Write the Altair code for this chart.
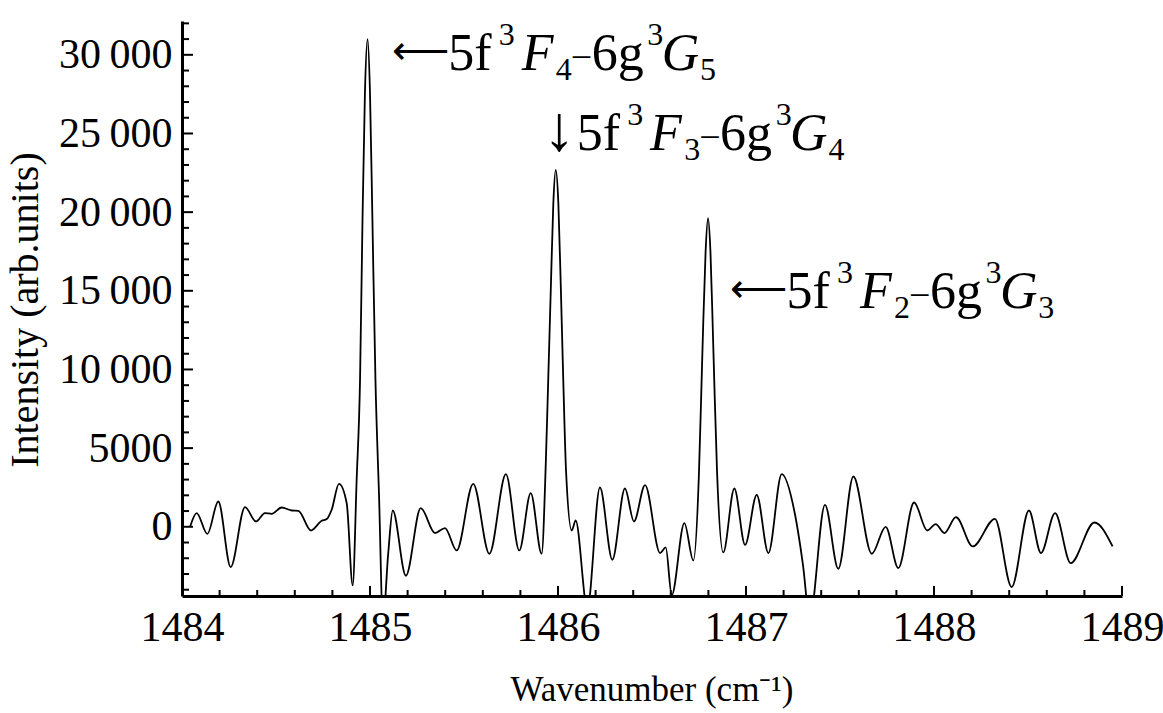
import altair as alt
import pandas as pd

# ---- data ----
wavenumber = [
    1484.043, 1484.078, 1484.135, 1484.193, 1484.259, 1484.335, 1484.394, 1484.441,
    1484.477, 1484.530, 1484.584, 1484.619, 1484.686, 1484.743, 1484.770, 1484.796,
    1484.835, 1484.876, 1484.908, 1484.929, 1484.947, 1484.960, 1484.973, 1484.987,
    1485.000, 1485.013, 1485.029, 1485.048, 1485.069, 1485.097, 1485.121, 1485.191,
    1485.270, 1485.346, 1485.399, 1485.461, 1485.549, 1485.635, 1485.723, 1485.794,
    1485.855, 1485.913, 1485.935, 1485.948, 1485.962, 1485.975, 1485.988, 1486.002,
    1486.015, 1486.028, 1486.043, 1486.073, 1486.094, 1486.156, 1486.223, 1486.289,
    1486.356, 1486.404, 1486.463, 1486.543, 1486.573, 1486.605, 1486.672, 1486.720,
    1486.750, 1486.764, 1486.771, 1486.785, 1486.798, 1486.811, 1486.824, 1486.831,
    1486.846, 1486.879, 1486.938, 1486.995, 1487.057, 1487.119, 1487.190, 1487.261,
    1487.303, 1487.339, 1487.420, 1487.491, 1487.571, 1487.669, 1487.743, 1487.810,
    1487.894, 1487.964, 1488.009, 1488.055, 1488.117, 1488.206, 1488.324, 1488.413,
    1488.505, 1488.569, 1488.644, 1488.727, 1488.853, 1488.950,
]
intensity = [
    0, 870, -445, 1607, -2560, 1251, 337, 870,
    826, 1226, 1036, 1016, -235, 381, 489, 1080,
    2732, 1506, -3729, 2986, 9339, 19400, 27560, 31000,
    27560, 19400, 9340, 2000, -6000, -1671, 1036, -3113,
    1188, -400, -83, -1506, 2732, -1715, 3348, -1506,
    2141, -1715, 4000, 9339, 15220, 20520, 22680, 20520,
    15220, 9339, 3500, -235, 400, -5200, 2497, -2096,
    2433, 337, 2649, -1671, -1315, -4350, 235, -2141,
    3500, 9339, 12300, 17450, 19612, 17450, 12300, 9339,
    3500, -1633, 2433, -1144, 2033, -1671, 3348, 762,
    -2414, -5800, 1398, -2668, 3196, -1715, 0, -2624,
    1544, -235, 172, -400, 616, -1251, 508, -3831,
    1036, -1671, 870, -2306, 273, -1251,
]
assert len(wavenumber) == len(intensity)

x_major = [1484, 1485, 1486, 1487, 1488, 1489]
x_minor = [1484.2, 1484.4, 1484.6, 1484.8, 1485.2, 1485.4, 1485.6, 1485.8,
           1486.2, 1486.4, 1486.6, 1486.8, 1487.2, 1487.4, 1487.6, 1487.8,
           1488.2, 1488.4, 1488.6, 1488.8]
y_major = [0, 5000, 10000, 15000, 20000, 25000, 30000]
y_minor = [-4000, -3000, -2000, -1000, 1000, 2000, 3000, 4000, 6000, 7000, 8000,
           9000, 11000, 12000, 13000, 14000, 16000, 17000, 18000, 19000, 21000,
           22000, 23000, 24000, 26000, 27000, 28000, 29000, 31000, 32000]

x_title = "Wavenumber (cm\u207b\u00b9)"
y_title = "Intensity (arb.units)"

# annotation labels: (arrow, sub1, sub2)
labels = [("\u27f5", "4", "5"), ("\u2193", "3", "4"), ("\u27f5", "2", "3")]

# ---- layout ----
W, H = 940, 575
LEFT, TOP = 182, 21
FONT = "Liberation Serif"
TICK_FS = 42
X_DOMAIN = [1484, 1489]
Y_DOMAIN = [-4400, 32150]

xs = alt.Scale(domain=X_DOMAIN, nice=False, zero=False)
ys = alt.Scale(domain=Y_DOMAIN, nice=False, zero=False)

df = pd.DataFrame({"w": wavenumber, "I": intensity})

sep = "\u2009"
label_expr = ("datum.value >= 10000 ? replace(format(datum.value, ','), ',', '" + sep +
              "') : format(datum.value, 'd')")

x_axis = alt.Axis(
    values=x_major, ticks=False, tickSize=0, grid=False, domainWidth=3,
    domainColor="black", labelFont=FONT, labelFontSize=TICK_FS, labelColor="black",
    labelPadding=11, title=None, format="d", labelFlush=False)
y_axis = alt.Axis(
    values=y_major, ticks=False, tickSize=0, grid=False, domainWidth=3,
    domainColor="black", labelFont=FONT, labelFontSize=TICK_FS, labelColor="black",
    labelPadding=10, title=None, labelExpr=label_expr, labelFlush=False)

line = alt.Chart(df).mark_line(
    color="black", strokeWidth=1.8, interpolate="monotone", clip=True
).encode(
    x=alt.X("w:Q", scale=xs, axis=x_axis),
    y=alt.Y("I:Q", scale=ys, axis=y_axis),
)


def xticks(vals, length):
    d = pd.DataFrame({"w": vals})
    return alt.Chart(d).mark_rule(color="black", strokeWidth=2).encode(
        x=alt.X("w:Q", scale=xs, axis=x_axis),
        y=alt.value(H), y2=alt.value(H - length))


def yticks(vals, length):
    d = pd.DataFrame({"I": vals})
    return alt.Chart(d).mark_rule(color="black", strokeWidth=2).encode(
        y=alt.Y("I:Q", scale=ys, axis=y_axis),
        x=alt.value(0), x2=alt.value(length))


one = alt.Data(values=[{"k": 0}])


def txt(s, px, py, size, style="normal", angle=0, align="left", baseline="alphabetic", font=FONT):
    kw = dict(text=s, font=font, fontSize=size, align=align, baseline=baseline,
              color="black", fontStyle=style)
    if angle:
        kw["angle"] = angle
    return alt.Chart(one).mark_text(**kw).encode(
        x=alt.value(px - LEFT), y=alt.value(py - TOP))


MAIN, SMALL = 52, 32
# (x of "5f", baseline, x of arrow)
anchors = [(448.3, 70, 391.7), (576.7, 150, 545), (786.6, 308.3, 730)]

texts = []
for (arrow, s1, s2), (x0, b, ax) in zip(labels, anchors):
    if arrow == "\u27f5":
        texts.append(txt(arrow, ax, b - 6, 40))
    else:
        texts.append(txt(arrow, ax - 2, b, 64))
    texts += [
        txt("5f", x0, b, MAIN),
        txt("3", x0 + 50.5, b - 25, SMALL),
        txt("F", x0 + 73.4, b, MAIN, "italic"),
        txt(s1, x0 + 107.5, b + 10, SMALL),
        txt("\u2212", x0 + 122.5, b, 38),
        txt("6g", x0 + 143.4, b, MAIN),
        txt("3", x0 + 199, b - 25, SMALL),
        txt("G", x0 + 213.4, b, MAIN, "italic"),
        txt(s2, x0 + 251.7, b + 10, SMALL),
    ]

titles = [
    txt(x_title, 652, 701, 35, align="center"),
    txt(y_title, 38, 310, 40, angle=270, align="center"),
]

chart = alt.layer(
    line,
    xticks(x_major, 10), xticks(x_minor, 6),
    yticks(y_major, 11), yticks(y_minor, 7),
    *texts, *titles,
).properties(
    width=W, height=H,
    autosize=alt.AutoSizeParams(type="none"),
    padding={"left": LEFT, "top": TOP, "right": 1163 - LEFT - W, "bottom": 713 - TOP - H},
    background="white",
).configure_view(stroke=None)

chart.save("out.html", embed_options={"renderer": "svg", "actions": False})
